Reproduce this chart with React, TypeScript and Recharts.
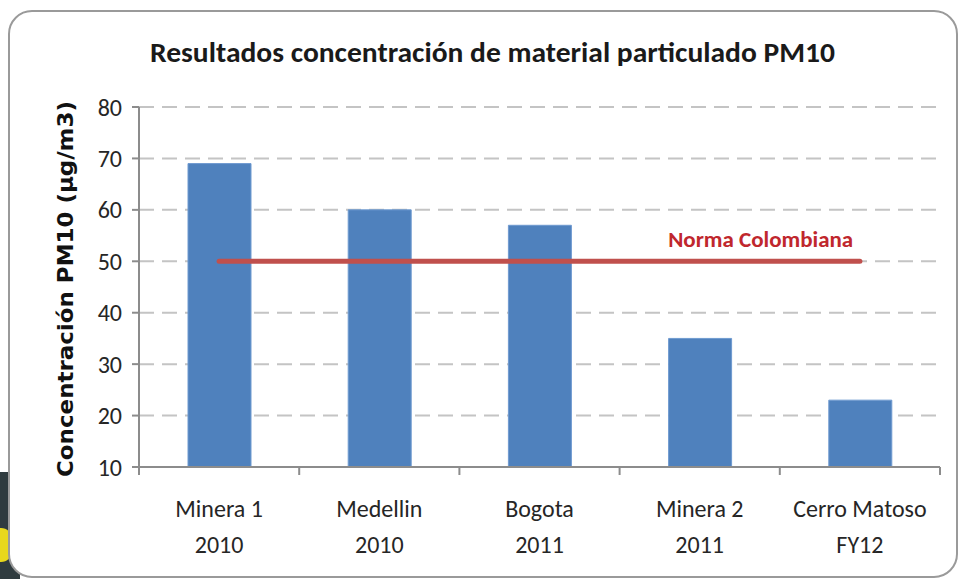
import { BarChart, Bar, Line, XAxis, YAxis, CartesianGrid } from "recharts";

const categories = ["Minera 1|2010", "Medellin|2010", "Bogota|2011", "Minera 2|2011", "Cerro Matoso|FY12"];
const pm10 = [69, 60, 57, 35, 23];
const norma = [50, 50, 50, 50, 50];
const yTicks = [10, 20, 30, 40, 50, 60, 70, 80];

const data = categories.map((name, i) => ({ name, pm10: pm10[i], norma: norma[i] }));

const FONT = "Carlito, Lato, sans-serif";

// category label in two lines, plus the tick marks on the category edges
function CategoryTick(props: any) {
  const { x, y, payload, width, visibleTicksCount, index } = props;
  const [line1, line2] = String(payload.value).split("|");
  const band = width / visibleTicksCount;
  return (
    <g transform={`translate(${x},${y})`}>
      <line x1={-band / 2} x2={-band / 2} y1={0} y2={8} stroke="#8c8c8c" strokeWidth={2} />
      {index === visibleTicksCount - 1 && (
        <line x1={band / 2} x2={band / 2} y1={0} y2={8} stroke="#8c8c8c" strokeWidth={2} />
      )}
      <text textAnchor="middle" fill="#262626" fontSize={24} fontFamily={FONT}>
        <tspan x={0} dy={50}>{line1}</tspan>
        <tspan x={0} dy={36}>{line2}</tspan>
      </text>
    </g>
  );
}

function NormaLabel(props: any) {
  const { x, y, index } = props;
  if (index !== 3) return null;
  return (
    <text
      x={x + 61}
      y={y - 14}
      textAnchor="middle"
      fill="#C0272D"
      fontSize={22}
      fontWeight="bold"
      fontFamily={FONT}
      textLength={185}
      lengthAdjust="spacingAndGlyphs"
    >
      Norma Colombiana
    </text>
  );
}

function AxisTitle() {
  return (
    <text
      x={0}
      y={0}
      transform="translate(73,289) rotate(-90)"
      textAnchor="middle"
      fill="#111"
      fontSize={22}
      fontWeight="bold"
      fontFamily="'DejaVu Sans', sans-serif"
      textLength={376}
      lengthAdjust="spacingAndGlyphs"
    >
      Concentración  PM10 (µg/m3)
    </text>
  );
}

export default function App() {
  return (
    <div style={{ position: "fixed", left: 0, top: 0, width: 959, height: 579, background: "#fff", overflow: "hidden" }}>
      <div style={{ position: "absolute", left: 0, top: 472, width: 20, height: 107, background: "#2f3b3f" }} />
      <div style={{ position: "absolute", left: -10, top: 528, width: 22, height: 34, borderRadius: 12, background: "#e8d81c" }} />
      <div
        style={{
          position: "absolute",
          left: 8,
          top: 10,
          width: 946,
          height: 564,
          border: "2px solid #9a9a9a",
          borderRadius: 24,
          background: "#fff",
        }}
      />
      <svg style={{ position: "absolute", left: 0, top: 0 }} width={959} height={100}>
        <text
          x={150}
          y={62}
          fill="#1a1a1a"
          fontSize={28}
          fontWeight="bold"
          fontFamily={FONT}
          textLength={685}
          lengthAdjust="spacingAndGlyphs"
        >
          Resultados  concentración de material particulado PM10
        </text>
      </svg>
      <div style={{ position: "absolute", left: 0, top: 0 }}>
        <BarChart width={959} height={579} data={data} margin={{ top: 107, right: 19, left: 0, bottom: 0 }}>
          <CartesianGrid vertical={false} stroke="#c4c4c4" strokeWidth={2} strokeDasharray="15 8" />
          <XAxis
            dataKey="name"
            stroke="#8c8c8c"
            strokeWidth={2}
            tickLine={false}
            tickSize={0}
            tickMargin={0}
            height={112}
            tick={<CategoryTick />}
            interval={0}
          />
          <YAxis
            width={139}
            domain={[10, 80]}
            ticks={yTicks}
            allowDataOverflow
            stroke="#8c8c8c"
            strokeWidth={2}
            tickSize={7}
            tickMargin={10}
            tick={{ fill: "#262626", fontSize: 24, fontFamily: FONT }}
            label={<AxisTitle />}
          />
          <Bar dataKey="pm10" fill="#4F81BD" stroke="#6f9ad0" strokeWidth={1} barSize={63} isAnimationActive={false} />
          <Line
            dataKey="norma"
            stroke="#C0504D"
            strokeWidth={5}
            strokeLinecap="round"
            dot={false}
            label={<NormaLabel />}
            isAnimationActive={false}
          />
        </BarChart>
      </div>
    </div>
  );
}
